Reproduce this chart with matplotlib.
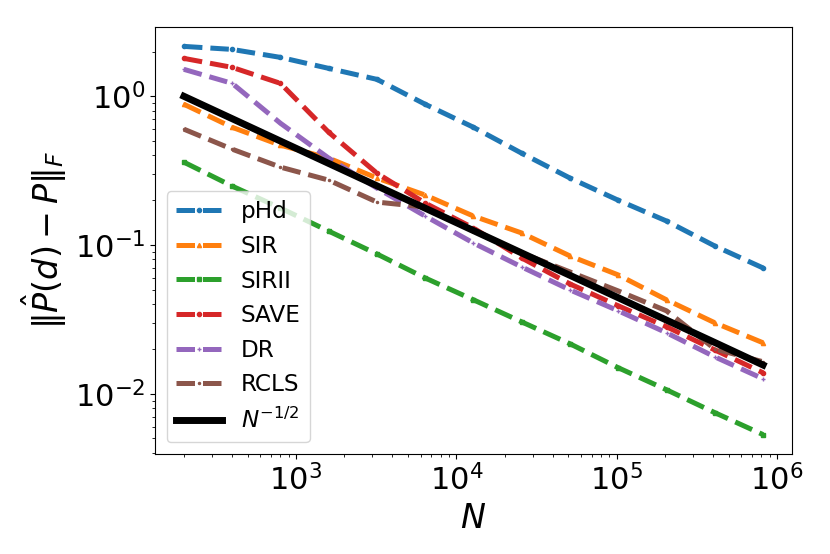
import matplotlib
matplotlib.use('Agg')
import matplotlib.pyplot as plt

plt.rcParams['font.size'] = 22

N = [200, 400, 800, 1600, 3200, 6400, 12800, 25600, 51200, 102400, 204800, 409600, 819200]

phd = [2.166, 2.067, 1.827, 1.541, 1.300, 0.884, 0.619, 0.414, 0.282, 0.200, 0.145, 0.0985, 0.0701]
sir = [0.884, 0.619, 0.469, 0.384, 0.282, 0.2166, 0.1565, 0.1204, 0.0844, 0.0629, 0.0428, 0.0300, 0.0220]
sirii = [0.3606, 0.2489, 0.1771, 0.124, 0.0870, 0.0600, 0.0428, 0.0304, 0.02166, 0.01495, 0.01063, 0.00746, 0.00531]
save = [1.799, 1.565, 1.222, 0.573, 0.304, 0.1913, 0.130, 0.0818, 0.0547, 0.0390, 0.0282, 0.0197, 0.01383]
dr = [1.518, 1.222, 0.659, 0.384, 0.2413, 0.1565, 0.1031, 0.0712, 0.0499, 0.0361, 0.0257, 0.0177, 0.0126]
rcls = [0.601, 0.441, 0.334, 0.273, 0.1944, 0.180, 0.124, 0.0884, 0.0659, 0.0491, 0.0361, 0.0200, 0.0164]
ref = [1.0, 0.7071, 0.5, 0.3536, 0.25, 0.1768, 0.125, 0.0884, 0.0625, 0.0442, 0.03125, 0.0221, 0.0156]

series = [
    (phd, 'pHd', 'o'),
    (sir, 'SIR', '^'),
    (sirii, 'SIRII', 's'),
    (save, 'SAVE', 'o'),
    (dr, 'DR', '+'),
    (rcls, 'RCLS', '.'),
]

fig, ax = plt.subplots(figsize=(8.3, 5.54), dpi=100)
fig.subplots_adjust(left=0.1867, right=0.9542, top=0.9513, bottom=0.1805)

for vals, name, mk in series:
    ax.loglog(N, vals, linestyle='--', marker=mk, markersize=3, linewidth=3.6, label=name)
ax.loglog(N, ref, 'k-', linewidth=5, label=r'$N^{-1/2}$')

ax.set_xlabel(r'$N$', fontsize=24)
ax.set_ylabel(r'$\|\hat{P}(d) - P\|_F$', fontsize=24)
ax.legend(loc='lower left', fontsize=16.7)

plt.savefig('out.png', dpi=100)
